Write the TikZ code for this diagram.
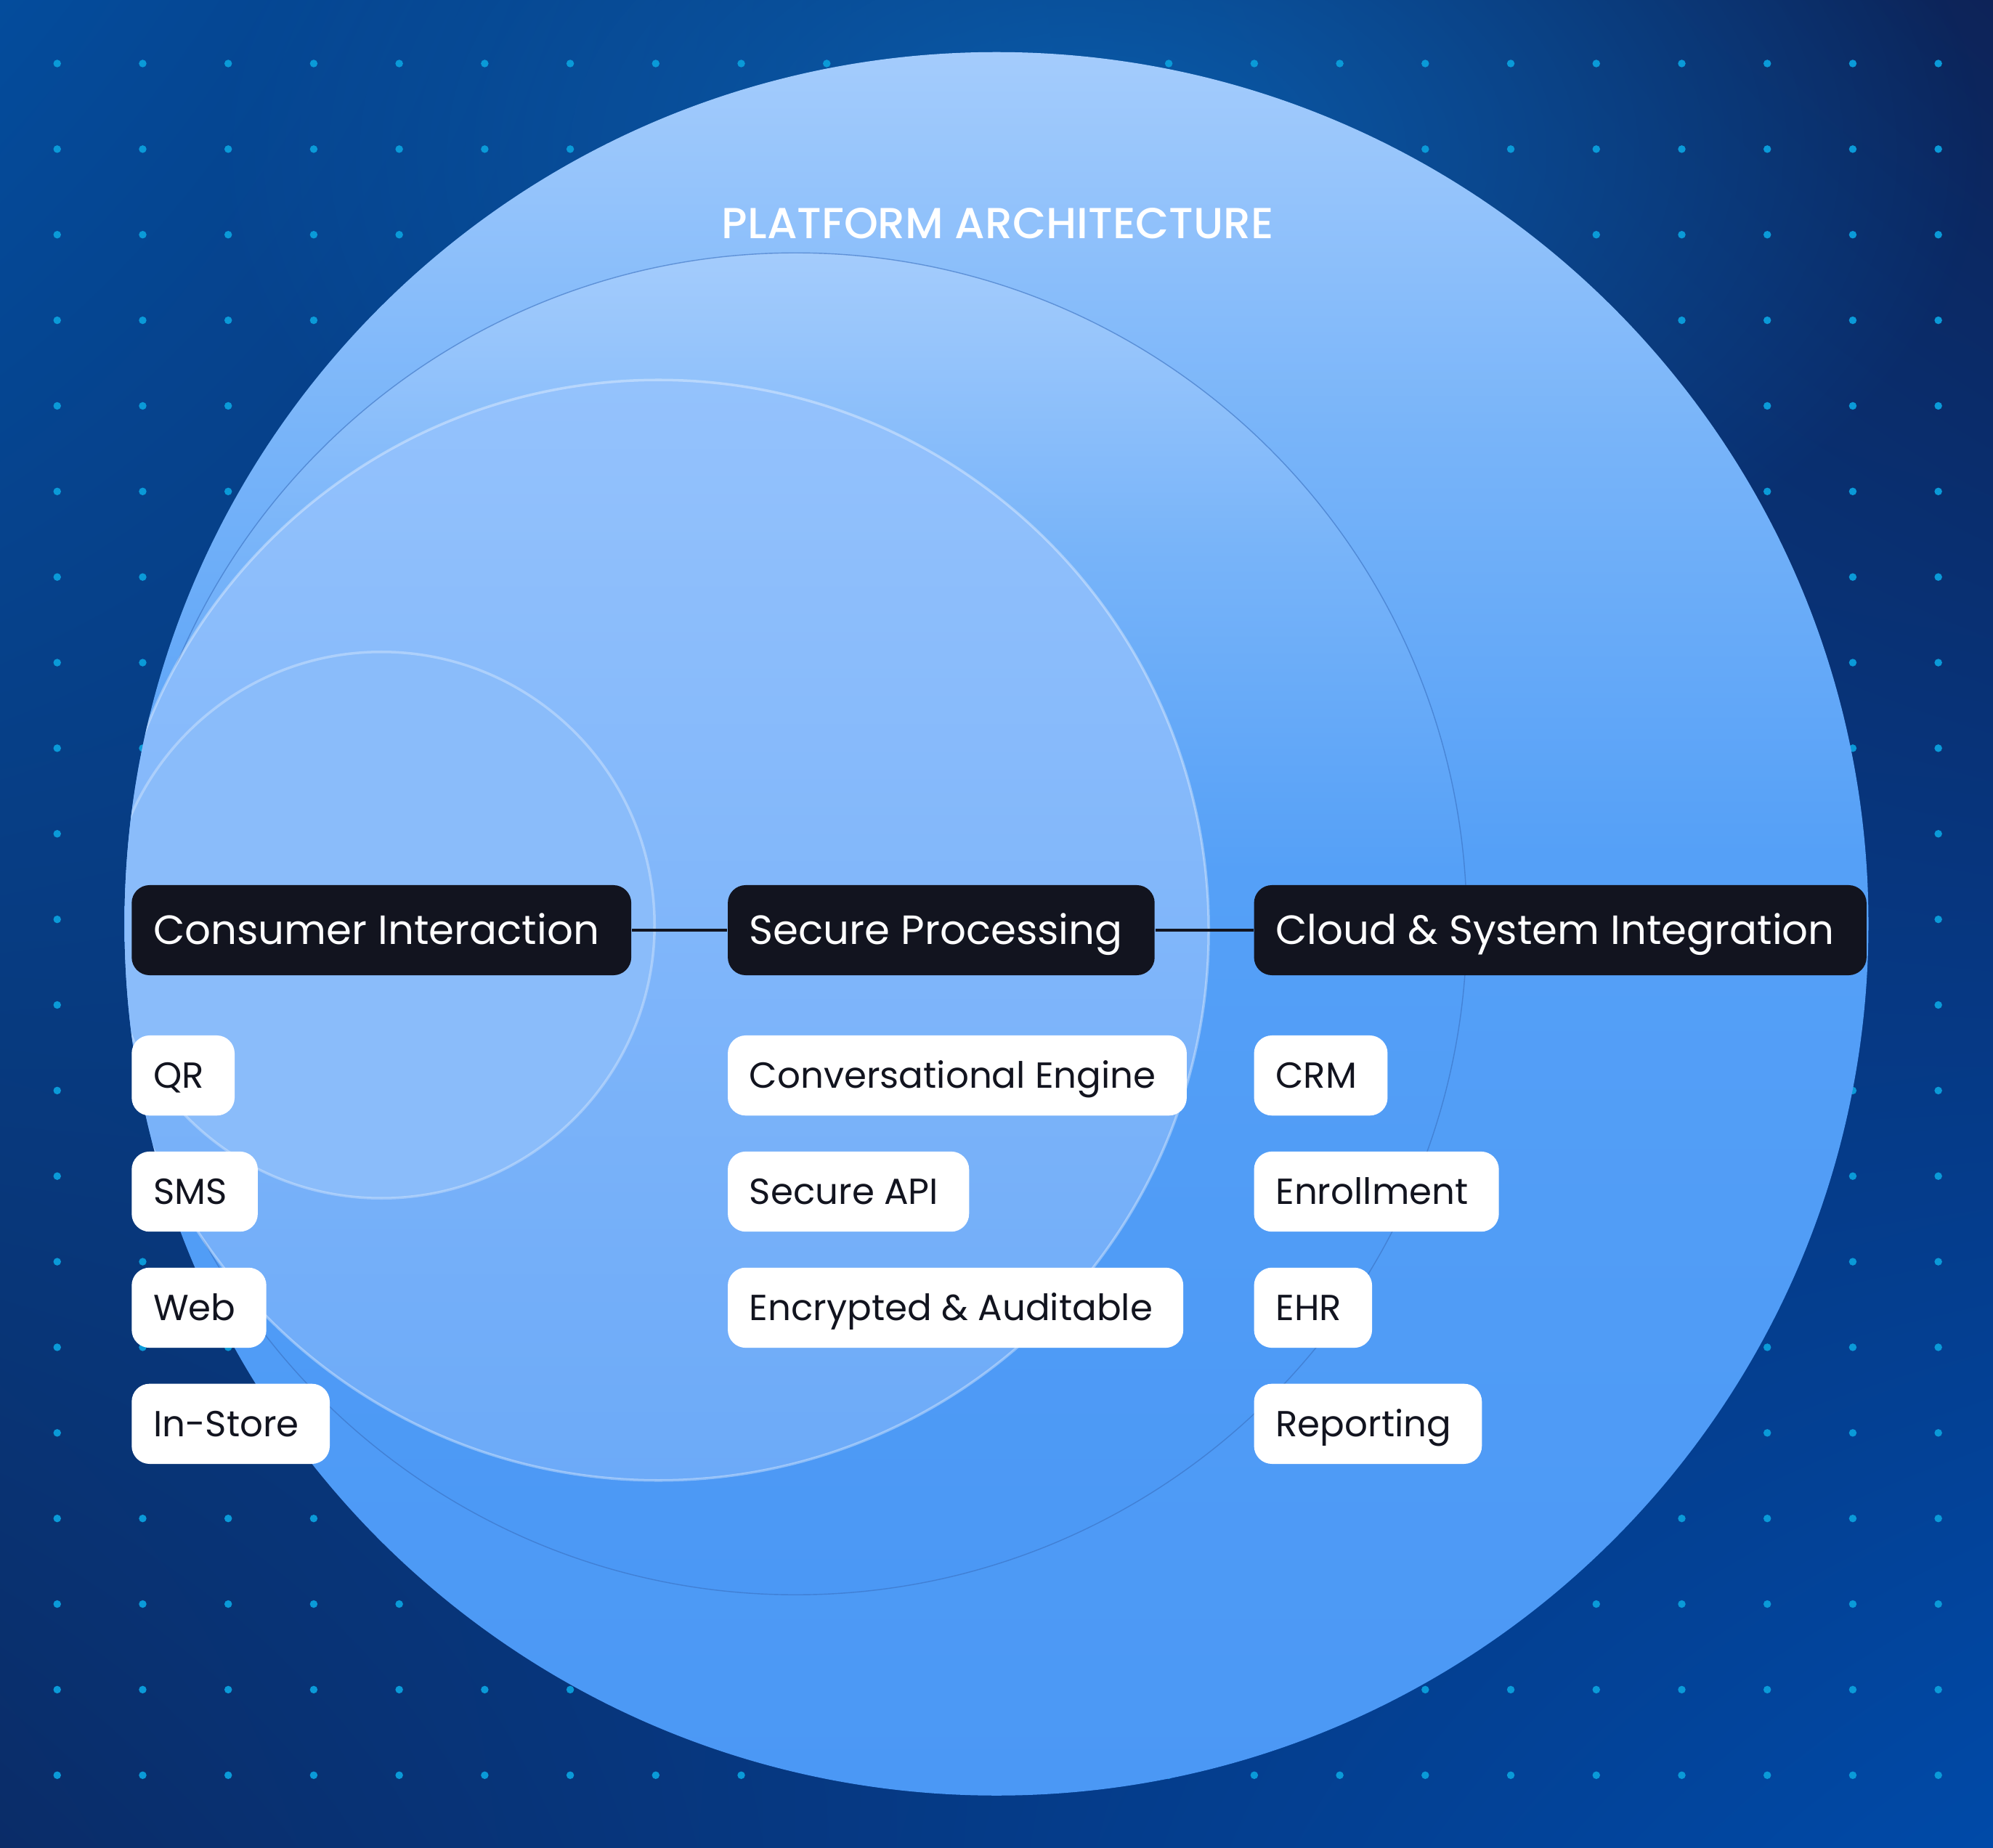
\documentclass[tikz,border=0pt]{standalone}
\usepackage{fontspec}
\setmainfont{Poppins}
\newfontfamily\titlefont{Poppins Medium}
\usetikzlibrary{positioning,fadings,shadings}

\definecolor{ink}{HTML}{12141F}
\definecolor{dotblue}{HTML}{0A9AD8}
\definecolor{glowblue}{HTML}{0A66B8}
\definecolor{bgtl}{HTML}{044C9C}
\definecolor{bgtr}{HTML}{0D2358}
\definecolor{bgbl}{HTML}{0A2C68}
\definecolor{bgbr}{HTML}{004AA8}
\definecolor{ringline}{HTML}{3A70C0}
\definecolor{midtop}{HTML}{94C2FC}
\definecolor{midbot}{HTML}{6CAAF8}
\definecolor{core}{HTML}{8ABCFA}

\tikzfading[name = glowfade, inner color = transparent!20, outer color = transparent!100]
\pgfdeclareverticalshading{outerfill}{100bp}{
  color(0bp)=({rgb,255:red,75;green,152;blue,245});
  color(25bp)=({rgb,255:red,75;green,152;blue,245});
  color(52bp)=({rgb,255:red,85;green,160;blue,247});
  color(64bp)=({rgb,255:red,120;green,180;blue,249});
  color(75bp)=({rgb,255:red,164;green,204;blue,252});
  color(100bp)=({rgb,255:red,164;green,204;blue,252})}

\begin{document}
\begin{tikzpicture}[
     x = 0.0175cm, y = -0.0175cm, % one unit per pixel of the sketch
     node distance = 13.5pt, % gap between the boxes of one column
     semithick
 ]

 \tikzstyle{header} = [
     fill = ink,
     text = white,
     rounded corners = 7pt,
     minimum height = 35.3pt,
     inner xsep = 8.5pt,
     text height = 11.2pt,
     text depth = 0pt,
     execute at end node = \hspace{4pt},
     font = \fontsize{16}{19}\selectfont
 ]
 \tikzstyle{item} = [
     fill = white,
     text = ink,
     rounded corners = 7pt,
     minimum height = 31.4pt,
     inner xsep = 8.5pt,
     text height = 10pt,
     text depth = 0pt,
     execute at end node = \hspace{3.5pt},
     font = \fontsize{14.2}{17}\selectfont
 ]
 \tikzstyle{link} = [draw = ink, line width = 1pt]

 \useasboundingbox (0,0) rectangle (1568,1454);

 % background and dots
 \shade[upper left = bgtl, upper right = bgtr, lower left = bgbl, lower right = bgbr]
     (0,0) rectangle (1568,1454);
 \fill[glowblue, path fading = glowfade] (860,120) ellipse (700 and 420);
 \foreach \i in {0,...,22}
   \foreach \j in {0,...,20}
     \fill[dotblue] (45+67.27*\i, 50+67.35*\j) circle (3);

 % nested circles
 \shade[shading = outerfill] (784,727) circle (686);
 \begin{scope}
   \clip (784,727) circle (686);
   \shade[shading = outerfill] (626,727) circle (528);
   \draw[ringline, draw opacity = 0.6, line width = 0.4pt] (626,727) circle (528);
   \shade[top color = midtop, bottom color = midbot] (518,732) circle (433);
   \draw[white, draw opacity = 0.35, line width = 1pt] (518,732) circle (433);
   \fill[core] (300,728) circle (215);
   \draw[white, draw opacity = 0.3, line width = 1pt] (300,728) circle (215);
 \end{scope}

 \node[white, font = \fontsize{17}{20}\titlefont] (title) at (785,176) {PLATFORM ARCHITECTURE};

 % column heads
 \node[header, anchor = west] (consumer) at (103,732) {Consumer Interaction};
 \node[header, anchor = west] (secure) at (572,732) {Secure Processing};
 \node[header, anchor = west] (cloud) at (986,732) {Cloud \& System Integration};

 \path[link] (consumer) -- (secure);
 \path[link] (secure) -- (cloud);

 % consumer interaction
 \node[item] (qr) [below right = 23pt and 0pt of consumer.south west] {QR};
 \node[item] (sms) [below right = 13.5pt and 0pt of qr.south west] {SMS};
 \node[item] (web) [below right = 13.5pt and 0pt of sms.south west] {Web};
 \node[item] (instore) [below right = 13.5pt and 0pt of web.south west] {In-Store};

 % secure processing
 \node[item] (engine) [below right = 23pt and 0pt of secure.south west] {Conversational Engine};
 \node[item] (api) [below right = 13.5pt and 0pt of engine.south west] {Secure API};
 \node[item] (audit) [below right = 13.5pt and 0pt of api.south west] {Encrypted \& Auditable};

 % cloud and system integration
 \node[item] (crm) [below right = 23pt and 0pt of cloud.south west] {CRM};
 \node[item] (enroll) [below right = 13.5pt and 0pt of crm.south west] {Enrollment};
 \node[item] (ehr) [below right = 13.5pt and 0pt of enroll.south west] {EHR};
 \node[item] (report) [below right = 13.5pt and 0pt of ehr.south west] {Reporting};
\end{tikzpicture}
\end{document}
